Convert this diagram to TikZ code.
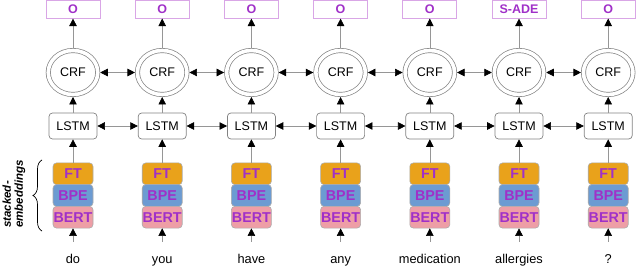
\documentclass[tikz,border=0pt]{standalone}
\usepackage{fontspec}
\setmainfont{Liberation Sans}
\usetikzlibrary{arrows.meta,shapes.geometric,decorations.pathreplacing}
\definecolor{ftc}{RGB}{233,162,27}
\definecolor{bpec}{RGB}{108,155,210}
\definecolor{bertc}{RGB}{238,158,166}
\definecolor{purp}{RGB}{160,48,200}
\definecolor{obord}{RGB}{217,166,230}
\definecolor{lgray}{RGB}{150,150,150}
\definecolor{bgray}{RGB}{130,130,130}
\begin{document}
\begin{tikzpicture}[x=1pt,y=-1pt,
  tipend/.style={-{Triangle[length=7.5pt,width=7.5pt,color=black]}},
  bothend/.style={{Triangle[length=7.5pt,width=7.5pt,color=black]}-{Triangle[length=7.5pt,width=7.5pt,color=black]}},
  conn/.style={draw=lgray,line width=0.6pt},
  obox/.style={draw=obord,line width=0.7pt,minimum width=54pt,minimum height=17.5pt,inner sep=0pt,
    text=purp,font=\fontsize{12.5}{12.5}\selectfont\bfseries},
  crfnode/.style={ellipse,draw=bgray,line width=0.7pt,double=white,double distance=3.6pt,
    minimum width=49.5pt,minimum height=44pt,inner sep=0pt,outer sep=2.5pt,
    font=\fontsize{12.5}{12.5}\selectfont},
  lstmnode/.style={draw=bgray,line width=0.7pt,rounded corners=3.5pt,minimum width=48pt,
    minimum height=26pt,inner sep=0pt,font=\fontsize{12.5}{12.5}\selectfont},
  embnode/.style={draw=lgray!80,line width=0.6pt,rounded corners=3.5pt,minimum width=40pt,
    minimum height=21.7pt,inner sep=0pt,text=purp,font=\fontsize{14.3}{14.3}\selectfont\bfseries},
  wordnode/.style={anchor=base,inner sep=0pt,text height=9pt,text depth=3pt,
    font=\fontsize{12.8}{12.8}\selectfont}
]
\useasboundingbox (0,0) rectangle (640,267);
\foreach \i/\w/\lab in {1/do/O,2/you/O,3/have/O,4/any/O,5/medication/O,6/allergies/S-ADE,7/?/O}{
  \pgfmathsetmacro{\cx}{73+89.2*(\i-1)}
  \node[obox] (o\i) at (\cx,9.5) {\lab};
  \node[crfnode] (c\i) at (\cx,72.5) {CRF};
  \node[lstmnode] (l\i) at (\cx,126) {LSTM};
  \node[embnode,fill=ftc] (f\i) at (\cx,173.8) {FT};
  \node[embnode,fill=bpec] (b\i) at (\cx,195.5) {BPE};
  \node[embnode,fill=bertc] (e\i) at (\cx,217.2) {BERT};
  \node[wordnode] (w\i) at (\cx,263) {\w};
  \draw[conn,tipend] (c\i) -- (o\i);
  \draw[conn,tipend] (l\i) -- (c\i);
  \draw[conn,tipend] (f\i) -- (l\i);
  \draw[conn,tipend,shorten <=12pt] (w\i.north) -- (e\i.south);
}
\foreach \i [evaluate=\i as \j using int(\i+1)] in {1,...,6}{
  \draw[conn,bothend] (c\i) -- (c\j);
  \draw[conn,bothend] (l\i) -- (l\j);
}
\draw[line width=0.7pt,decorate,decoration={brace,amplitude=9pt}] (42,231) -- (42,160);
\node[rotate=90,anchor=west,inner sep=0pt,align=left,
  font=\fontsize{11.5}{12}\selectfont\bfseries\itshape] (lbl) at (14,228) {stacked-\\embeddings};
\end{tikzpicture}
\end{document}
